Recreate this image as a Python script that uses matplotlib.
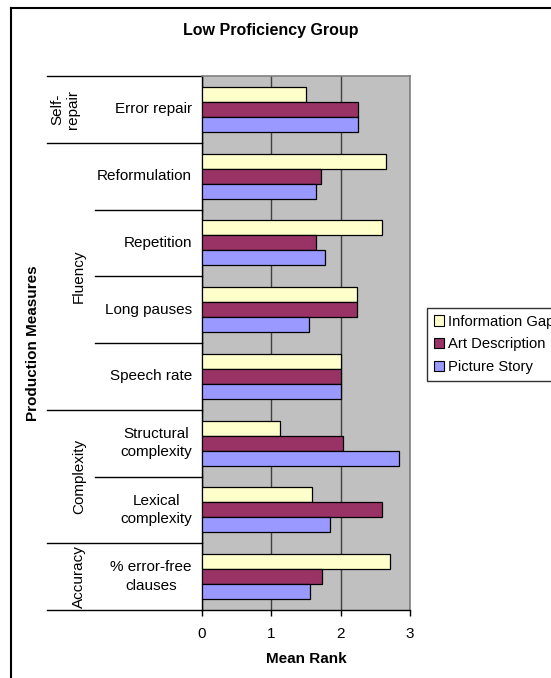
import matplotlib
matplotlib.use("Agg")
import matplotlib.pyplot as plt
from matplotlib import transforms
from matplotlib.lines import Line2D
from matplotlib.patches import Patch

plt.rcParams["font.family"] = ["Liberation Sans", "DejaVu Sans"]

measures = ["Error repair", "Reformulation", "Repetition", "Long pauses",
            "Speech rate", "Structural\ncomplexity", "Lexical\ncomplexity",
            "% error-free\nclauses"]
series_names = ["Information Gap", "Art Description", "Picture Story"]
information_gap = [1.50, 2.65, 2.59, 2.23, 2.00, 1.13, 1.58, 2.71]
art_description = [2.25, 1.71, 1.65, 2.23, 2.00, 2.04, 2.59, 1.73]
picture_story = [2.25, 1.65, 1.77, 1.55, 2.00, 2.84, 1.84, 1.56]
# measure groups: (label, first index, last index)
groups = [("Self-\nrepair", 0, 0), ("Fluency", 1, 4),
          ("Complexity", 5, 6), ("Accuracy", 7, 7)]
x_ticks = [0, 1, 2, 3]

colors = ["#FFFFCC", "#993366", "#9999FF"]

W, H = 551, 678
fig = plt.figure(figsize=(W / 100, H / 100), dpi=100)
fig.patch.set_facecolor("white")

L, R, T, B = 202, 410, 76, 610
ax = fig.add_axes([L / W, 1 - B / H, (R - L) / W, (B - T) / H])
ax.set_facecolor("#C0C0C0")

bar_h = 0.225
offsets = [-bar_h, 0.0, bar_h]
ypos = list(range(len(measures)))
for vals, off, col, name in zip([information_gap, art_description, picture_story],
                                offsets, colors, series_names):
    ax.barh([y + off for y in ypos], vals, height=bar_h, color=col,
            edgecolor="black", linewidth=0.9, label=name, zorder=3)

ax.set_xlim(0, 3)
ax.set_ylim(len(measures) - 0.5, -0.5)
ax.set_xticks(x_ticks)
ax.set_xticklabels([str(t) for t in x_ticks], fontsize=11)
ax.tick_params(axis="x", direction="out", length=4, width=1, pad=8, color="black")
ax.set_yticks([])
ax.xaxis.grid(True, color="#404040", linewidth=1, zorder=1)
ax.set_axisbelow(True)
for side in ("top", "right"):
    ax.spines[side].set_color("#808080")
    ax.spines[side].set_linewidth(1.2)
for side in ("left", "bottom"):
    ax.spines[side].set_color("black")
    ax.spines[side].set_linewidth(1)

ax.set_xlabel("Mean Rank", fontsize=11, fontweight="bold", labelpad=8)

# hierarchical category labels on the left
mix = transforms.blended_transform_factory(fig.transFigure, ax.transData)
for i, m in enumerate(measures):
    ax.text(192 / W, i, m, transform=mix, ha="right", va="center",
            multialignment="center", fontsize=11, linespacing=1.4)

group_starts = {g[1] for g in groups}
for b in range(len(measures) + 1):
    yb = b - 0.5
    x0 = 47 if (b in group_starts or b == len(measures)) else 95
    ax.add_line(Line2D([x0 / W, L / W], [yb, yb], transform=mix, color="black",
                       linewidth=1, clip_on=False))

for label, i0, i1 in groups:
    yc = (i0 + i1) / 2
    xg = 65 if "\n" in label else 79
    ax.text(xg / W, yc, label, transform=mix, rotation=90, ha="center",
            va="center", fontsize=11, multialignment="center", linespacing=1.1)

fig.text(33 / W, 1 - 343 / H, "Production Measures", rotation=90, ha="center",
         va="center", fontsize=11, fontweight="bold")

fig.text(271 / W, 1 - 30 / H, "Low Proficiency Group", ha="center", va="center",
         fontsize=11.5, fontweight="bold")

# chart frame
fig.add_artist(Line2D([11 / W, 11 / W], [0, 1 - 8 / H], transform=fig.transFigure,
                      color="black", linewidth=1.5))
fig.add_artist(Line2D([11 / W, 1.0], [1 - 8 / H, 1 - 8 / H], transform=fig.transFigure,
                      color="black", linewidth=1.5))

handles = [Patch(facecolor=c, edgecolor="black", linewidth=0.8) for c in colors]
leg = fig.legend(handles, series_names, loc="upper left",
                 bbox_to_anchor=(427 / W, 1 - 308 / H), fontsize=10.6,
                 frameon=True, fancybox=False, handlelength=0.7, handleheight=0.7,
                 handletextpad=0.3, borderpad=0.45, labelspacing=0.6,
                 borderaxespad=0)
leg.get_frame().set_edgecolor("black")
leg.get_frame().set_linewidth(1)

fig.savefig("out.png", dpi=100)
